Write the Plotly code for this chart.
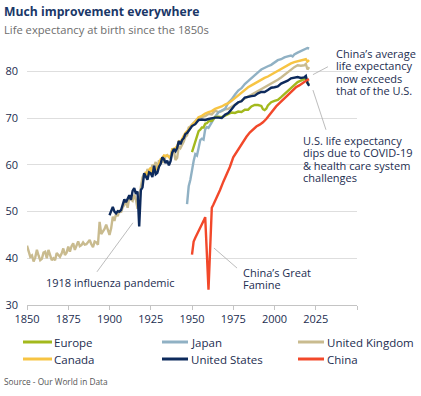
import plotly.graph_objects as go

# ---------------- data ----------------
uk_years = list(range(1850, 1951)) + [1952, 1954, 1956, 1958, 1960, 1962, 1964, 1966, 1968, 1970,
            1972, 1974, 1976, 1978, 1980, 1982, 1984, 1986, 1988, 1990, 1992, 1994, 1996, 1998,
            2000, 2002, 2004, 2006, 2008, 2010, 2012, 2014, 2016, 2018, 2019, 2020, 2021]
uk_vals = [42.7, 41.6, 40.3, 40.6, 39.3, 40.2, 41.8, 40.6, 39.6, 39.9,
           41.2, 41.4, 40.0, 41.8, 40.7, 39.6, 40.0, 39.6, 41.1, 40.6,
           40.3, 41.0, 42.1, 40.7, 41.2, 42.5, 41.4, 42.6, 43.2, 41.8,
           42.9, 43.6, 42.6, 42.8, 43.4, 42.9, 43.0, 43.5, 43.9, 43.0,
           42.4, 43.6, 43.4, 42.9, 47.8, 45.2, 45.7, 46.3, 47.2, 45.9,
           45.0, 46.4, 48.9, 48.0, 49.6, 49.0, 50.3, 49.8, 50.9, 51.4,
           52.4, 50.8, 53.2, 52.6, 52.3, 53.6, 52.5, 50.6, 51.5, 55.2,
           57.3, 58.0, 57.4, 59.1, 58.3, 58.6, 60.0, 59.6, 60.6, 58.9,
           61.0, 60.2, 60.7, 60.6, 61.9, 62.1, 61.7, 61.8, 63.2, 63.0,
           61.0, 61.5, 64.0, 63.6, 64.2, 65.0, 66.0, 66.3, 68.0, 68.2,
           68.6, 69.4, 70.1, 70.2, 70.4, 70.9, 70.8, 71.6, 71.3, 71.5, 71.9,
           72.0, 72.4, 72.8, 73.2, 73.7, 74.2, 74.6, 74.9, 75.3, 75.7, 76.2, 76.6, 76.9, 77.3,
           77.8, 78.2, 78.7, 79.3, 79.7, 80.4, 80.9, 81.3, 81.2, 81.3, 81.6, 80.4, 80.9]

japan_years = [1947, 1948, 1949, 1950, 1951, 1952, 1953, 1954, 1955, 1956, 1957, 1958, 1959, 1960,
               1962, 1964, 1966, 1968, 1970, 1972, 1974, 1976, 1978, 1980, 1982, 1984, 1986, 1988,
               1990, 1992, 1994, 1996, 1998, 2000, 2002, 2004, 2006, 2008, 2010, 2011, 2012, 2014,
               2016, 2018, 2019, 2020, 2021]
japan_vals = [51.6, 55.4, 56.8, 59.3, 60.8, 62.3, 62.0, 63.6, 65.3, 65.6, 65.4, 67.6, 68.1, 67.9,
              69.2, 70.3, 71.2, 71.6, 72.0, 73.3, 74.0, 75.0, 75.9, 76.4, 77.3, 77.9, 78.6, 79.1,
              79.8, 80.4, 80.8, 81.1, 81.4, 81.9, 82.4, 82.6, 83.0, 83.2, 83.4, 83.2, 83.6, 84.0,
              84.3, 84.6, 84.8, 85.0, 84.9]

canada_years = list(range(1921, 1951)) + [1952, 1954, 1956, 1958, 1960, 1962, 1964, 1966, 1968,
                1970, 1972, 1974, 1976, 1978, 1980, 1982, 1984, 1986, 1988, 1990, 1992, 1994,
                1996, 1998, 2000, 2002, 2004, 2006, 2008, 2010, 2012, 2014, 2016, 2018, 2019,
                2020, 2021]
canada_vals = [57.3, 58.5, 57.6, 58.9, 59.4, 58.0, 59.6, 59.1, 59.0, 60.4,
               61.2, 61.5, 62.0, 61.9, 62.0, 61.7, 61.3, 63.3, 63.5, 63.6,
               64.0, 65.0, 64.8, 65.6, 66.2, 66.8, 67.1, 67.6, 68.0, 68.5,
               69.2, 70.2, 70.5, 71.0, 71.3, 71.5, 72.0, 72.2, 72.5,
               72.9, 73.2, 73.7, 74.3, 75.0, 75.4, 76.0, 76.6, 77.0, 77.4, 77.9, 78.3, 78.6,
               78.9, 79.3, 79.8, 80.1, 80.6, 81.0, 81.3, 81.7, 82.0, 82.2, 82.4, 82.5, 82.6,
               82.1, 82.4]

us_years = list(range(1900, 1951)) + [1952, 1954, 1956, 1958, 1960, 1962, 1964, 1966, 1968,
            1970, 1972, 1974, 1976, 1978, 1980, 1982, 1984, 1986, 1988, 1990, 1992, 1994,
            1996, 1998, 2000, 2002, 2004, 2006, 2008, 2010, 2012, 2014, 2016, 2018, 2019,
            2020, 2021]
us_vals = [49.2, 50.3, 51.0, 50.0, 49.6, 50.1, 50.0, 50.3, 51.4, 52.6,
           52.0, 52.9, 53.5, 52.5, 54.4, 55.0, 53.8, 54.3, 46.8, 54.6,
           55.2, 58.2, 57.6, 56.8, 58.4, 58.2, 57.4, 59.8, 58.0, 58.3,
           59.6, 60.2, 61.6, 61.2, 60.4, 60.9, 59.9, 60.8, 62.6, 63.4,
           62.9, 63.6, 65.1, 64.4, 65.3, 65.7, 66.6, 66.8, 67.3, 67.9,
           68.3, 68.7, 69.6, 69.7, 69.6, 69.8, 70.0, 70.1, 70.1, 70.0,
           70.7, 71.1, 71.9, 72.8, 73.4, 73.6, 74.4, 74.6, 74.7, 74.8, 75.3, 75.6, 75.6,
           76.0, 76.5, 76.6, 76.8, 77.4, 77.7, 78.0, 78.5, 78.7, 78.8, 78.6, 78.7, 79.0,
           77.5, 76.9]

europe_years = [1950, 1951, 1952, 1953, 1954, 1955, 1956, 1957, 1958, 1959, 1960, 1962, 1964,
                1966, 1968, 1970, 1972, 1974, 1976, 1978, 1980, 1982, 1984, 1986, 1988, 1990,
                1992, 1993, 1994, 1995, 1996, 1998, 2000, 2002, 2004, 2006, 2008, 2010, 2012,
                2014, 2016, 2018, 2019, 2020, 2021]
europe_vals = [62.7, 63.8, 65.3, 66.2, 67.2, 67.5, 68.0, 68.0, 68.8, 68.9, 69.3, 69.4, 70.2,
               70.3, 70.2, 70.5, 70.9, 71.2, 71.1, 71.4, 71.3, 71.8, 71.8, 72.5, 72.8, 72.8,
               72.6, 71.9, 71.7, 72.0, 72.7, 73.4, 73.7, 73.9, 74.5, 75.1, 75.8, 76.4, 77.0,
               77.7, 78.0, 78.3, 78.7, 77.5, 77.2]

china_years = [1950, 1951, 1952, 1953, 1954, 1955, 1956, 1957, 1958, 1960, 1962, 1963, 1965,
               1967, 1969, 1971, 1973, 1975, 1977, 1979, 1981, 1983, 1985, 1987, 1989, 1991,
               1993, 1995, 1997, 1999, 2001, 2003, 2005, 2007, 2009, 2011, 2013, 2015, 2017,
               2019, 2020, 2021]
china_vals = [40.8, 43.6, 44.4, 45.2, 45.9, 46.6, 47.3, 48.0, 48.8, 33.3, 50.8, 51.5, 53.0,
              54.6, 56.4, 58.0, 59.6, 61.6, 62.7, 64.0, 65.0, 66.0, 66.9, 67.6, 68.2, 68.6,
              69.1, 69.8, 70.7, 71.7, 72.5, 73.2, 73.9, 74.7, 75.4, 76.0, 76.6, 77.0, 77.5,
              77.9, 78.2, 78.3]

x_ticks = [1850, 1875, 1900, 1925, 1950, 1975, 2000, 2025, 2050]
x_tick_labels = ["1850", "1875", "1900", "1925", "1950", "1975", "2000", "2025", ""]
y_ticks = [30, 40, 50, 60, 70, 80]

# ---------------- styling ----------------
W, H = 421, 396
L, R, T, B = 27, 64, 34, 91
PW, PH = W - L - R, H - T - B
FONT = "Open Sans"
NAVY_TXT = "#1c2d50"

def px_x(px):
    return (px - L) / PW

def px_y(py):
    return (H - B - py) / PH

series = [
    ("United Kingdom", uk_years, uk_vals, "#c9bb8f"),
    ("Japan", japan_years, japan_vals, "#90b1c4"),
    ("Canada", canada_years, canada_vals, "#f7c443"),
    ("Europe", europe_years, europe_vals, "#a3b91d"),
    ("United States", us_years, us_vals, "#0d2a5c"),
    ("China", china_years, china_vals, "#f2482a"),
]
colors = {n: c for n, _, _, c in series}

fig = go.Figure()
for name, xs, ys, col in series:
    fig.add_trace(go.Scatter(x=xs, y=ys, mode="lines", name=name,
                             line=dict(color=col, width=2.4), showlegend=False))

annotations = []
shapes = []

def text(px, py, s, size=11, color=NAVY_TXT, bold=False, anchor="left"):
    annotations.append(dict(
        x=px_x(px), y=px_y(py), xref="paper", yref="paper", text=("<b>%s</b>" % s) if bold else s,
        showarrow=False, xanchor=anchor, yanchor="middle", borderpad=0,
        font=dict(family=FONT, size=size, color=color)))

def seg(x0, y0, x1, y1, color="#ababab", width=0.8):
    shapes.append(dict(type="line", xref="x", yref="y", x0=x0, y0=y0, x1=x1, y1=y1,
                       line=dict(color=color, width=width)))

# title / subtitle / source
text(3, 12, "Much improvement everywhere", size=12.2, color="#1a3768", bold=True)
text(3, 29, "Life expectancy at birth since the 1850s", size=11.2, color="#6d6d6d")
text(3, 381, "Source - Our World in Data", size=8.3, color="#555555")

# callouts
for i, s in enumerate(["China\u2019s average", "life expectancy", "now exceeds", "that of the U.S."]):
    text(335, 53 + i * 12.6, s)
for i, s in enumerate(["U.S. life expectancy", "dips due to COVID-19", "& health care system", "challenges"]):
    text(302, 140 + i * 12.6, s)
for i, s in enumerate(["China\u2019s Great", "Famine"]):
    text(242, 272 + i * 12.6, s)
text(45, 282, "1918 influenza pandemic")

seg(2023.3, 79.3, 2032.4, 81.0)
seg(2023.3, 76.0, 2031.2, 67.5)
seg(1963.3, 42.2, 1977.3, 37.9)
seg(1892.4, 37.1, 1914.2, 47.6)

# manual legend
legend_order = ["Europe", "Japan", "United Kingdom", "Canada", "United States", "China"]
col_x = [(23, 52, 53), (162, 188, 190), (298, 324, 326)]
row_y = [342, 359]
for i, name in enumerate(legend_order):
    c = col_x[i % 3]
    ry = row_y[i // 3]
    shapes.append(dict(type="line", xref="paper", yref="paper",
                       x0=px_x(c[0]), x1=px_x(c[1]), y0=px_y(ry), y1=px_y(ry),
                       line=dict(color=colors[name], width=3)))
    text(c[2], ry, name, size=11.5, color=NAVY_TXT)

fig.update_layout(
    width=W, height=H,
    margin=dict(l=L, r=R, t=T, b=B, autoexpand=False),
    paper_bgcolor="white", plot_bgcolor="white",
    showlegend=False,
    annotations=annotations, shapes=shapes,
    font=dict(family=FONT, color=NAVY_TXT),
)
fig.update_xaxes(range=[1850, 2050], tickvals=x_ticks, ticktext=x_tick_labels, automargin=False,
                 showgrid=False, zeroline=False, showline=True, linecolor="#c4c4c4", linewidth=1,
                 ticks="outside", ticklen=4, tickcolor="#c4c4c4",
                 tickfont=dict(family=FONT, size=11, color=NAVY_TXT))
fig.update_yaxes(range=[30, 88], tickvals=y_ticks, showgrid=True, gridcolor="#dedede", gridwidth=1,
                 zeroline=False, showline=False, ticks="", ticklabelstandoff=8, automargin=False,
                 tickfont=dict(family=FONT, size=11, color=NAVY_TXT))

fig.write_html("out.html", config={"displayModeBar": False},
               post_script="document.body.style.margin='0';document.body.style.overflow='hidden';")
